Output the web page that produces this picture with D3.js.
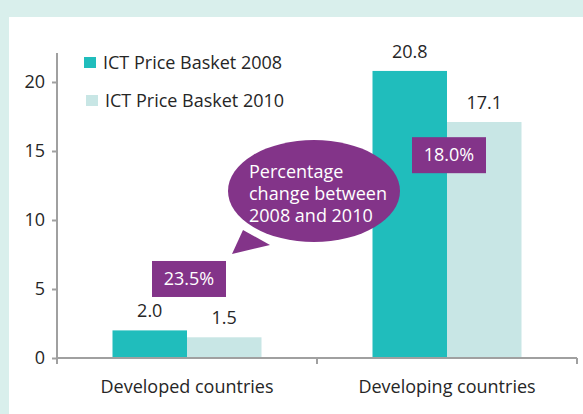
<!DOCTYPE html>
<html>
  <head>
    <meta charset="utf-8" />
    <script src="https://d3js.org/d3.v7.min.js"></script>
    <style>
      body { margin: 0; background: #d9efec; }
      text { font-family: "Open Sans", Lato, sans-serif; fill: #262626; }
    </style>
  </head>
  <body>
    <script>
      // data
      const categories = ["Developed countries", "Developing countries"];
      const series = ["ICT Price Basket 2008", "ICT Price Basket 2010"];
      const values2008 = [2.0, 20.8];
      const values2010 = [1.5, 17.1];
      const pctChange = ["23.5%", "18.0%"];
      const yTicks = [0, 5, 10, 15, 20];
      const bubbleLines = ["Percentage", "change between", "2008 and 2010"];

      const colors = ["#20bdbc", "#c8e6e5"];
      const purple = "#833489";
      const fs = "18px";

      const width = 583, height = 414;
      const svg = d3.select("body").append("svg")
        .attr("width", width).attr("height", height);

      // teal frame + white panel
      svg.append("rect").attr("width", width).attr("height", height).attr("fill", "#d9efec");
      svg.append("rect").attr("x", 9).attr("y", 17)
        .attr("width", width - 9).attr("height", height - 17).attr("fill", "#fff");

      const plot = { left: 57, right: 577, top: 53, bottom: 358 };

      const x = d3.scaleBand().domain(categories).range([plot.left, plot.right]);
      const xs = d3.scaleBand().domain(series).range([0, x.bandwidth()]).paddingOuter(0.745);
      const y = d3.scaleLinear().domain([0, 22.1]).range([plot.bottom, plot.top]);

      const rows = categories.map((c, i) => ({ cat: c, vals: [values2008[i], values2010[i]] }));

      // bars
      const groups = svg.append("g").selectAll("g").data(rows).join("g")
        .attr("transform", d => `translate(${x(d.cat)},0)`);

      groups.selectAll("rect").data(d => d.vals.map((v, j) => ({ s: series[j], v, j })))
        .join("rect")
        .attr("x", d => xs(d.s))
        .attr("width", xs.bandwidth())
        .attr("y", d => y(d.v))
        .attr("height", d => y(0) - y(d.v))
        .attr("fill", d => colors[d.j]);

      groups.selectAll("text.val").data(d => d.vals.map((v, j) => ({ s: series[j], v })))
        .join("text").attr("class", "val")
        .attr("x", d => xs(d.s) + xs.bandwidth() / 2)
        .attr("y", d => y(d.v) - 13)
        .attr("text-anchor", "middle")
        .style("font-size", fs)
        .text(d => d.v.toFixed(1));

      // y axis
      const yAxis = svg.append("g").attr("transform", `translate(${plot.left},0)`)
        .call(d3.axisLeft(y).tickValues(yTicks).tickSize(5).tickPadding(7));
      yAxis.select(".domain").attr("d", `M0,${plot.top}V${plot.bottom + 5}`);
      yAxis.selectAll("path, line").attr("stroke", "#a0a0a0").attr("stroke-width", 2);
      yAxis.selectAll("text").style("font-size", fs).attr("fill", "#262626");

      // x axis
      const xAxis = svg.append("g").attr("transform", `translate(0,${plot.bottom})`);
      xAxis.append("path")
        .attr("d", `M${plot.left},0H${plot.right}`)
        .attr("stroke", "#a0a0a0").attr("stroke-width", 2).attr("fill", "none");
      xAxis.selectAll("line").data(categories.map(c => x(c)).concat([x.range()[1]]))
        .join("line")
        .attr("x1", d => d).attr("x2", d => d).attr("y1", 0).attr("y2", 6)
        .attr("stroke", "#a0a0a0").attr("stroke-width", 2);
      xAxis.selectAll("text").data(categories).join("text")
        .attr("x", d => x(d) + x.bandwidth() / 2)
        .attr("y", 35)
        .attr("text-anchor", "middle")
        .style("font-size", fs)
        .text(d => d);

      // legend
      const legend = svg.append("g").selectAll("g").data(series).join("g")
        .attr("transform", (d, i) => `translate(${84 + i * 2},${57 + i * 38})`);
      legend.append("rect").attr("width", 12).attr("height", 11).attr("fill", (d, i) => colors[i]);
      legend.append("text").attr("x", 19).attr("y", 12)
        .style("font-size", fs).text(d => d);

      // speech bubble
      const bubble = svg.append("g");
      bubble.append("path")
        .attr("d", "M243,230 L232,254 L270,245 Z")
        .attr("fill", purple);
      bubble.append("ellipse")
        .attr("cx", 314).attr("cy", 191).attr("rx", 86).attr("ry", 51)
        .attr("fill", purple);
      bubble.append("text")
        .attr("x", 249).attr("y", 178)
        .style("font-size", fs).style("fill", "#fff")
        .selectAll("tspan").data(bubbleLines).join("tspan")
        .attr("x", 249).attr("dy", (d, i) => i ? 22 : 0)
        .text(d => d);

      // percentage boxes: developed box sits above the labels, developing box inside the bars
      const boxLevel = [7.03, 16.0];
      const boxes = svg.append("g").selectAll("g").data(categories).join("g")
        .attr("transform", (d, i) => `translate(${x(d) + x.bandwidth() / 2 + 2},${y(boxLevel[i])})`);
      boxes.append("rect").attr("x", -37).attr("width", 74).attr("height", 36).attr("fill", purple);
      boxes.append("text").attr("y", 24).attr("text-anchor", "middle")
        .style("font-size", fs).style("fill", "#fff")
        .text((d, i) => pctChange[i]);
    </script>
  </body>
</html>
